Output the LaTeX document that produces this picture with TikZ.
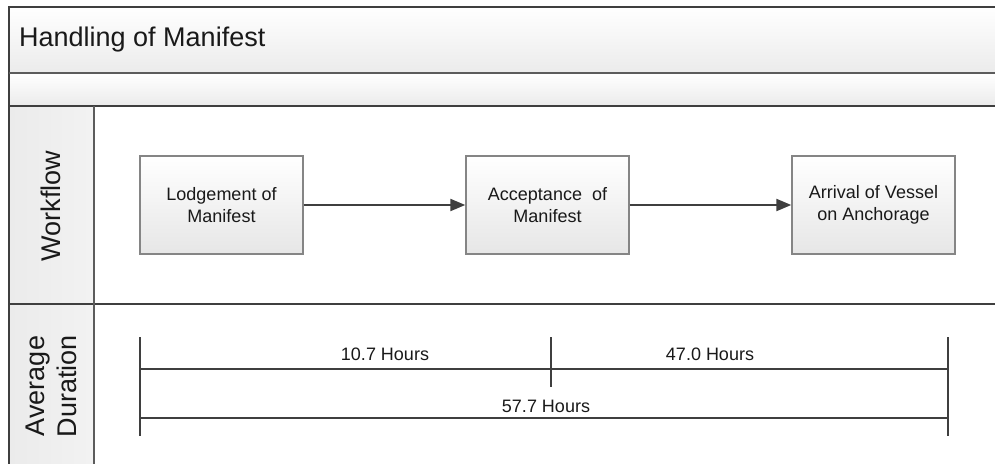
\documentclass[tikz,border=0pt]{standalone}
\usepackage{fontspec}
\setmainfont{Liberation Sans}
\usetikzlibrary{arrows.meta}
\definecolor{lineDark}{HTML}{3F3F3F}
\definecolor{boxEdge}{HTML}{858585}
\definecolor{bandGray}{HTML}{EBEBEB}
\definecolor{boxGray}{HTML}{E6E6E6}
\tikzset{
  lanefill/.style={top color=white, bottom color=bandGray},
  colfill/.style={left color=bandGray, right color=white!95!black},
  stepbox/.style={draw=boxEdge, line width=1.4pt, top color=white, bottom color=boxGray,
    minimum width=163pt, minimum height=98pt, inner sep=0pt, align=center,
    font=\fontsize{18pt}{22pt}\selectfont, text=black!90},
  flow/.style={draw=lineDark, line width=2.2pt, -{Triangle[length=15pt,width=12pt]}},
  frame/.style={draw=lineDark, line width=2.2pt},
  thinframe/.style={draw=lineDark!85, line width=1.4pt},
  dimline/.style={draw=lineDark, line width=1.8pt},
  dimlabel/.style={font=\fontsize{18pt}{22pt}\selectfont, text=black!90, inner sep=0pt},
  lanelabel/.style={font=\fontsize{27pt}{32pt}\selectfont, text=black!90, rotate=90, align=center, inner sep=0pt}
}
\begin{document}
\begin{tikzpicture}[x=1pt,y=-1pt]
\useasboundingbox (0,0) rectangle (995,463);
\clip (0,0) rectangle (995,463);
% header bands
\path[lanefill] (9,7) rectangle (1000,73);
\path[lanefill] (9,73) rectangle (1000,106);
% lane label columns
\path[colfill] (9,106) rectangle (94,304);
\path[colfill] (9,304) rectangle (94,470);
% frame lines
\draw[frame] (1000,7) -- (9,7) -- (9,470);
\draw[thinframe] (9,73) -- (1000,73);
\draw[frame] (9,106) -- (1000,106);
\draw[frame] (9,304) -- (1000,304);
\draw[thinframe] (94,106) -- (94,470);
% title and lane labels
\node[anchor=west, font=\fontsize{27pt}{32pt}\selectfont, text=black!90, inner sep=0pt] (title) at (19,40) {Handling of Manifest};
\node[lanelabel] (wf) at (51,206) {Workflow};
\node[lanelabel] (ad) at (51,386) {Average\\Duration};
% steps
\node[stepbox] (s1) at (221.5,205) {Lodgement of\\Manifest};
\node[stepbox] (s2) at (547.5,205) {Acceptance~ of\\Manifest};
\node[stepbox] (s3) at (873.5,205) {Arrival of Vessel\\on Anchorage};
\draw[flow] (s1) -- (s2);
\draw[flow] (s2) -- (s3);
% duration dimension lines
\coordinate (a1) at (140,337);
\coordinate (a2) at (140,436);
\coordinate (b1) at (551,337);
\coordinate (b2) at (551,387);
\coordinate (c1) at (948,337);
\coordinate (c2) at (948,436);
\coordinate (l1) at (140,369);
\coordinate (r1) at (948,369);
\coordinate (l2) at (140,418);
\coordinate (r2) at (948,418);
\draw[dimline] (a1) -- (a2);
\draw[dimline] (b1) -- (b2);
\draw[dimline] (c1) -- (c2);
\draw[dimline] (l1) -- (r1);
\draw[dimline] (l2) -- (r2);
\node[dimlabel] (d1) at (385,354) {10.7 Hours};
\node[dimlabel] (d2) at (710,354) {47.0 Hours};
\node[dimlabel] (d3) at (546,406) {57.7 Hours};
\end{tikzpicture}
\end{document}
